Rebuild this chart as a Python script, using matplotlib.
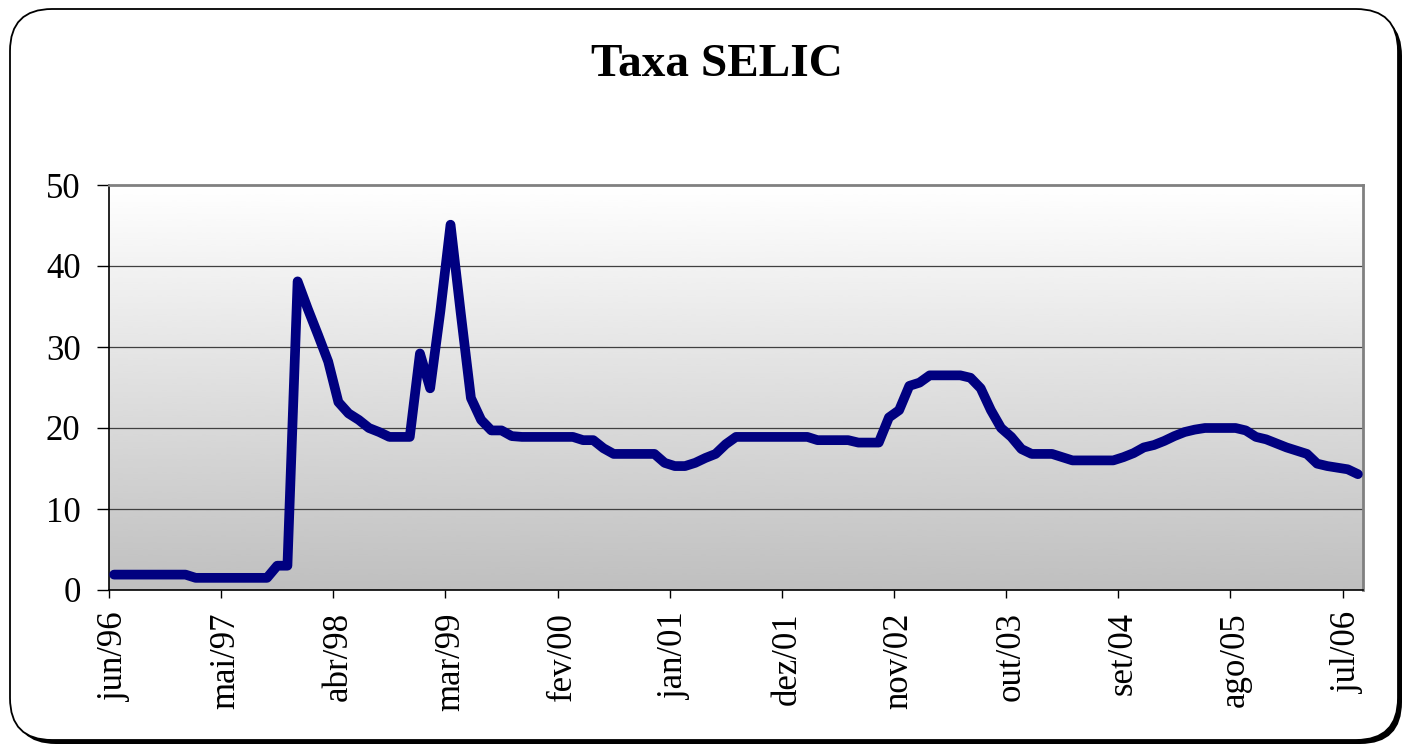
import matplotlib
matplotlib.use("Agg")
import matplotlib.pyplot as plt
import numpy as np
from matplotlib.patches import FancyBboxPatch

# monthly SELIC, jun/96 .. ago/06
selic = [1.9, 1.9, 1.9, 1.9, 1.9, 1.9, 1.9, 1.9, 1.5, 1.5,
         1.5, 1.5, 1.5, 1.5, 1.5, 1.5, 3.0, 3.0, 38.1, 34.7,
         31.5, 28.2, 23.2, 21.8, 21.0, 20.0, 19.5, 18.9, 18.9, 18.9,
         29.2, 24.9, 34.4, 45.1, 34.2, 23.7, 21.0, 19.7, 19.7, 19.0,
         18.9, 18.9, 18.9, 18.9, 18.9, 18.9, 18.5, 18.5, 17.5, 16.8,
         16.8, 16.8, 16.8, 16.8, 15.7, 15.3, 15.3, 15.7, 16.3, 16.8,
         18.0, 18.9, 18.9, 18.9, 18.9, 18.9, 18.9, 18.9, 18.9, 18.5,
         18.5, 18.5, 18.5, 18.2, 18.2, 18.2, 21.3, 22.2, 25.2, 25.6,
         26.5, 26.5, 26.5, 26.5, 26.2, 24.9, 22.2, 20.0, 18.9, 17.4,
         16.8, 16.8, 16.8, 16.4, 16.0, 16.0, 16.0, 16.0, 16.0, 16.4,
         16.9, 17.6, 17.9, 18.4, 19.0, 19.5, 19.8, 20.0, 20.0, 20.0,
         20.0, 19.7, 18.9, 18.6, 18.1, 17.6, 17.2, 16.8, 15.6, 15.3,
         15.1, 14.9, 14.3]

tick_labels = ["jun/96", "mai/97", "abr/98", "mar/99", "fev/00", "jan/01",
               "dez/01", "nov/02", "out/03", "set/04", "ago/05", "jul/06"]
tick_step = 11

plt.rcParams['font.family'] = ['Liberation Serif', 'DejaVu Serif']

W, H = 1406, 746
fig = plt.figure(figsize=(W / 100, H / 100), dpi=100)

# rounded frame with shadow
bg = fig.add_axes([0, 0, 1, 1], zorder=0)
bg.set_xlim(0, W)
bg.set_ylim(H, 0)
bg.axis("off")
shadow = FancyBboxPatch((14, 14), 1388, 730, boxstyle="round,pad=0,rounding_size=42",
                        fc="black", ec="black", lw=0)
frame = FancyBboxPatch((10, 9), 1388, 731, boxstyle="round,pad=0,rounding_size=42",
                       fc="white", ec="black", lw=1.3)
bg.add_patch(shadow)
bg.add_patch(frame)

x = np.arange(len(selic))
ax = fig.add_axes([109 / W, 1 - 590 / H, (1363 - 109) / W, (590 - 185) / H], zorder=1)
ax.patch.set_visible(False)
ax.set_xlim(-0.5, len(selic) - 0.5)
ax.set_ylim(0, 50)

# gradient background
grad = np.linspace(1.0, 0.75, 256).reshape(-1, 1)
ax.imshow(grad, extent=(-0.5, len(selic) - 0.5, 0, 50), aspect="auto",
          cmap="gray", vmin=0, vmax=1, zorder=0, interpolation="bicubic")

for yv in [10, 20, 30, 40]:
    ax.axhline(yv, color="#404040", lw=0.9, zorder=1)

ax.plot(x, selic, color="#000080", lw=7, solid_joinstyle="round",
        solid_capstyle="round", zorder=3)

ax.set_yticks([0, 10, 20, 30, 40, 50])
ax.tick_params(axis="y", labelsize=25, length=8.5, width=1, pad=12, direction="out")

major = np.arange(0, len(selic), tick_step)[:len(tick_labels)]
ax.set_xticks(major)
ax.set_xticklabels(tick_labels, rotation=90, va="top", ha="center")
ax.tick_params(axis="x", which="major", labelsize=25, length=0, pad=16)
ax.set_xticks(major - 0.5, minor=True)
ax.tick_params(axis="x", which="minor", length=6, width=1, direction="out")

for s in ["top", "right"]:
    ax.spines[s].set_color("#808080")
    ax.spines[s].set_linewidth(2)
for s in ["left", "bottom"]:
    ax.spines[s].set_color("black")
    ax.spines[s].set_linewidth(1.2)

fig.text(717 / W, 1 - 65 / H, "Taxa SELIC", ha="center", va="center",
         fontsize=34, fontweight="bold")

fig.savefig("out.png", dpi=100)
